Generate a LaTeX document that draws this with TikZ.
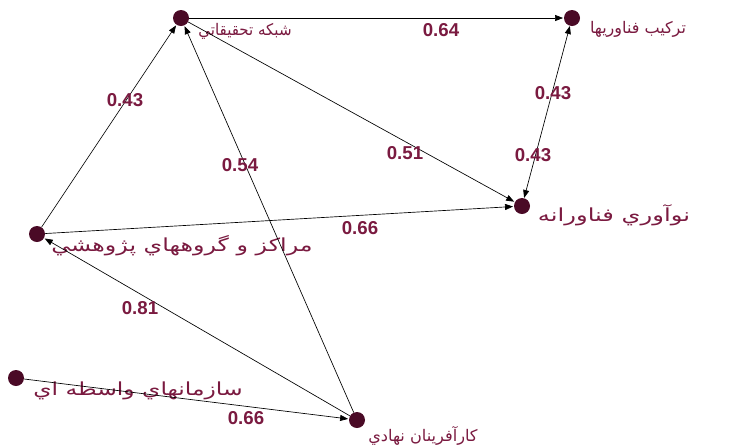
\documentclass[tikz,border=0pt]{standalone}
\usepackage{graphicx}
\usepackage{fontspec}
\setmainfont{Liberation Sans}
\newfontfamily\arabicfont[Script=Arabic]{DejaVu Sans}
\TeXXeTstate=1
\usetikzlibrary{arrows.meta}
\definecolor{dotc}{HTML}{4A0A26}
\definecolor{txtc}{HTML}{7A1A40}
\newcommand{\arabw}[2]{\resizebox{#1}{\height}{#2}}
\tikzset{
  vert/.style={circle,fill=dotc,inner sep=0pt,minimum size=12pt},
  lbl/.style={text=txtc,font=\arabicfont\fontsize{12}{14}\selectfont,inner sep=0pt},
  biglbl/.style={lbl,font=\arabicfont\fontsize{13.5}{15}\selectfont},
  wt/.style={text=txtc,font=\bfseries\fontsize{14}{16}\selectfont,inner sep=1pt},
  edge/.style={draw=black,line width=0.5pt,-{Triangle[length=6pt,width=4.5pt]},shorten >=0.5pt},
  bedge/.style={draw=black,line width=0.5pt,{Triangle[length=6pt,width=4.5pt]}-{Triangle[length=6pt,width=4.5pt]}}
}
\begin{document}
\begin{tikzpicture}[x=0.75pt,y=-0.75pt]
\useasboundingbox (0,0) rectangle (729,444);
\node[vert] (A) at (181,18) {};
\node[vert] (B) at (572,18) {};
\node[vert] (C) at (522,206) {};
\node[vert] (D) at (37,234) {};
\node[vert] (E) at (16,378) {};
\node[vert] (F) at (357,420) {};
\node[lbl] (Al) at (245,31) {\arabw{70pt}{\beginR شبکه تحقیقاتي\endR}};
\node[lbl] (Bl) at (638,29) {\arabw{72pt}{\beginR ترکیب فناوریها\endR}};
\node[biglbl] (Cl) at (614,215) {\arabw{114pt}{\beginR نوآوري فناورانه\endR}};
\node[biglbl] (Dl) at (182,246) {\arabw{196pt}{\beginR مراکز و گروههاي پژوهشي\endR}};
\node[biglbl] (El) at (138,391) {\arabw{157pt}{\beginR سازمانهاي واسطه اي\endR}};
\node[lbl] (Fl) at (423,436) {\arabw{82pt}{\beginR کارآفرینان نهادي\endR}};
\draw[edge] (A) -- (B);
\draw[edge] (D) -- (A);
\draw[edge] (F) -- (A);
\draw[edge] (A) -- (C);
\draw[bedge] (B) -- (C);
\draw[edge] (D) -- (C);
\draw[edge] (F) -- (D);
\draw[edge] (E) -- (F);
\node[wt] (w1) at (441,30) {0.64};
\node[wt] (w2) at (125,100) {0.43};
\node[wt] (w3) at (240,165) {0.54};
\node[wt] (w4) at (405,153) {0.51};
\node[wt] (w5) at (553,93) {0.43};
\node[wt] (w6) at (533,155) {0.43};
\node[wt] (w7) at (360,228) {0.66};
\node[wt] (w8) at (140,308) {0.81};
\node[wt] (w9) at (246,418) {0.66};
\end{tikzpicture}
\end{document}
